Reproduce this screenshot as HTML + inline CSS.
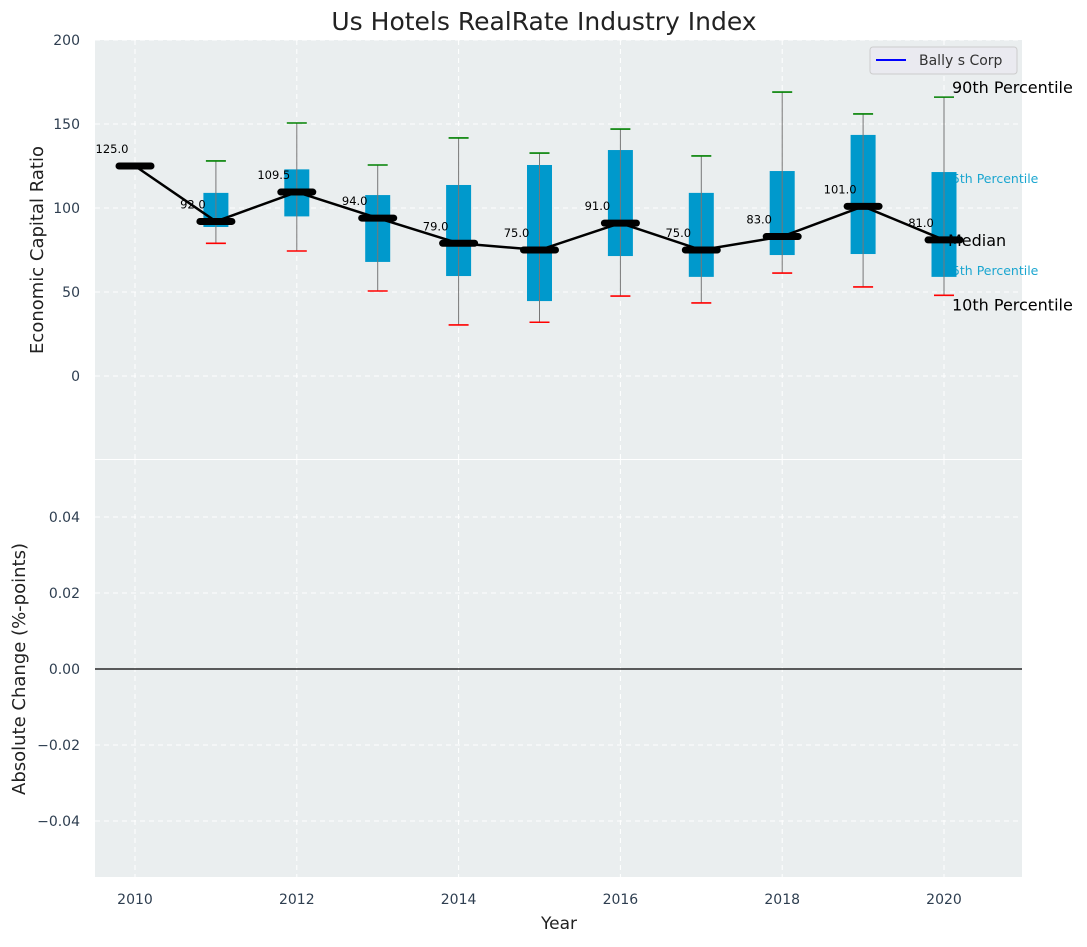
<!DOCTYPE html>
<html><head><meta charset="utf-8"><style>
body{margin:0;background:#fff;font-family:"Liberation Sans","DejaVu Sans",sans-serif}
svg text{font-family:"DejaVu Sans","Liberation Sans",sans-serif}
</style></head><body>
<svg id="c" width="1087" height="942" xmlns="http://www.w3.org/2000/svg"></svg>
<script>
const years=[2010,2011,2012,2013,2014,2015,2016,2017,2018,2019,2020];
const medians=[125,92,109.5,94,79,75,91,75,83,101,81];
const q75=[null,109,123,107.7,113.7,125.6,134.5,109,122,143.5,121.4];
const q25=[null,88.7,95,67.9,59.5,44.6,71.4,59,72,72.6,59];
const p90=[null,128,150.6,125.6,141.7,132.7,147,131,169,156,166];
const p10=[null,79,74.4,50.6,30.4,32,47.6,43.5,61.3,53,48];
const yTicksTop=[0,50,100,150,200];
const yTicksBot=[-0.04,-0.02,0,0.02,0.04];
const xTicks=[2010,2012,2014,2016,2018,2020];

const NS="http://www.w3.org/2000/svg",svg=document.getElementById('c');
function el(t,a,p){const e=document.createElementNS(NS,t);for(const k in a)e.setAttribute(k,a[k]);(p||svg).appendChild(e);return e;}
const L=95,R=1022,T1=40,B1=459,T2=460,B2=877;
const x=v=>135+(v-2010)*80.9;
const y1=v=>376-v*1.68;
const y2=v=>669-v*3800;

let r=el('rect',{x:L,y:T1,width:R-L,height:B1-T1,fill:'#eaeeef'});

r=el('rect',{x:L,y:T2,width:R-L,height:B2-T2,fill:'#eaeeef'});


xTicks.forEach(v=>{
  [[T1,B1],[T2,B2]].forEach(([a,b])=>{
    const g=el('line',{x1:x(v),x2:x(v),y1:a,y2:b,stroke:'#fff','stroke-dasharray':'5,4','stroke-width':1});
    
  });
  const t=el('text',{x:x(v),y:904,'text-anchor':'middle','font-size':14,fill:'#2e3e50'});t.textContent=v;
  
});
yTicksTop.forEach(v=>{
  const g=el('line',{x1:L,x2:R,y1:y1(v),y2:y1(v),stroke:'#fff','stroke-dasharray':'5,4'});
  
  const t=el('text',{x:80,y:y1(v)+5,'text-anchor':'end','font-size':14,fill:'#2e3e50'});t.textContent=v;
  
});
yTicksBot.forEach(v=>{
  const g=el('line',{x1:L,x2:R,y1:y2(v),y2:y2(v),stroke:'#fff','stroke-dasharray':'5,4'});
  
  const t=el('text',{x:80,y:y2(v)+5,'text-anchor':'end','font-size':14,fill:'#2e3e50'});t.textContent=(v<0?'\u2212':'')+Math.abs(v).toFixed(2);
  
});
let zl=el('line',{x1:L,x2:R,y1:y2(0),y2:y2(0),stroke:'#000','stroke-width':1.2});


function txt(s,xx,yy,size,fill,name){const t=el('text',{x:xx,y:yy,'font-size':size,fill:fill});t.textContent=s;
  return t;}
const last=years.length-1;
txt('90th Percentile',952,y1(p90[last])-4,16,'#000','p90-annotation');
txt('75th Percentile',944,y1(q75[last])+11,12.5,'#1ba6d0','p75-annotation');
txt('25th Percentile',944,y1(q25[last])-2,12.5,'#1ba6d0','p25-annotation');
txt('10th Percentile',952,y1(p10[last])+15,16,'#000','p10-annotation');

years.forEach((yr,i)=>{
  if(q75[i]==null)return;
  const cx=x(yr);
  const b=el('rect',{x:cx-12.5,y:y1(q75[i]),width:25,height:y1(q25[i])-y1(q75[i]),fill:'#0099cc'});
  
  const w=el('line',{x1:cx,x2:cx,y1:y1(p90[i]),y2:y1(p10[i]),stroke:'#777','stroke-width':1});
  
  const c1=el('line',{x1:cx-10,x2:cx+10,y1:y1(p90[i]),y2:y1(p90[i]),stroke:'green','stroke-width':1.6});
  
  const c2=el('line',{x1:cx-10,x2:cx+10,y1:y1(p10[i]),y2:y1(p10[i]),stroke:'red','stroke-width':1.6});
  
});
const ml=el('polyline',{points:years.map((yr,i)=>x(yr)+','+y1(medians[i])).join(' '),fill:'none',stroke:'#000','stroke-width':2.5});

years.forEach((yr,i)=>{
  const m=el('line',{x1:x(yr)-16,x2:x(yr)+16,y1:y1(medians[i]),y2:y1(medians[i]),stroke:'#000','stroke-width':7,'stroke-linecap':'round'});
  
  const t=el('text',{x:x(yr)-23,y:y1(medians[i])-13,'text-anchor':'middle','font-size':11.5,fill:'#000'});
  t.textContent=medians[i].toFixed(1);
  
});
txt('Median',948,y1(medians[last])+6,16,'#000','median-annotation');

const lg=el('g',{});
el('rect',{x:870,y:47,width:147,height:27,rx:3,fill:'#eaeaf0',stroke:'#ccc'},lg);
el('line',{x1:876,x2:906,y1:60,y2:60,stroke:'blue','stroke-width':2},lg);
const lt=el('text',{x:919,y:65,'font-size':14,fill:'#333'},lg);lt.textContent='Bally s Corp';

txt('Us Hotels RealRate Industry Index',544,30,25,'#222','chart-title').setAttribute('text-anchor','middle');
txt('Year',559,929,17,'#222','x-axis-title').setAttribute('text-anchor','middle');
let ya=txt('Economic Capital Ratio',0,0,18,'#222','y-axis-title-top');
ya.setAttribute('text-anchor','middle');ya.setAttribute('transform','translate(43,250) rotate(-90)');
ya=txt('Absolute Change (%-points)',0,0,18,'#222','y-axis-title-bottom');
ya.setAttribute('text-anchor','middle');ya.setAttribute('transform','translate(25,669) rotate(-90)');
</script>
</body></html>
